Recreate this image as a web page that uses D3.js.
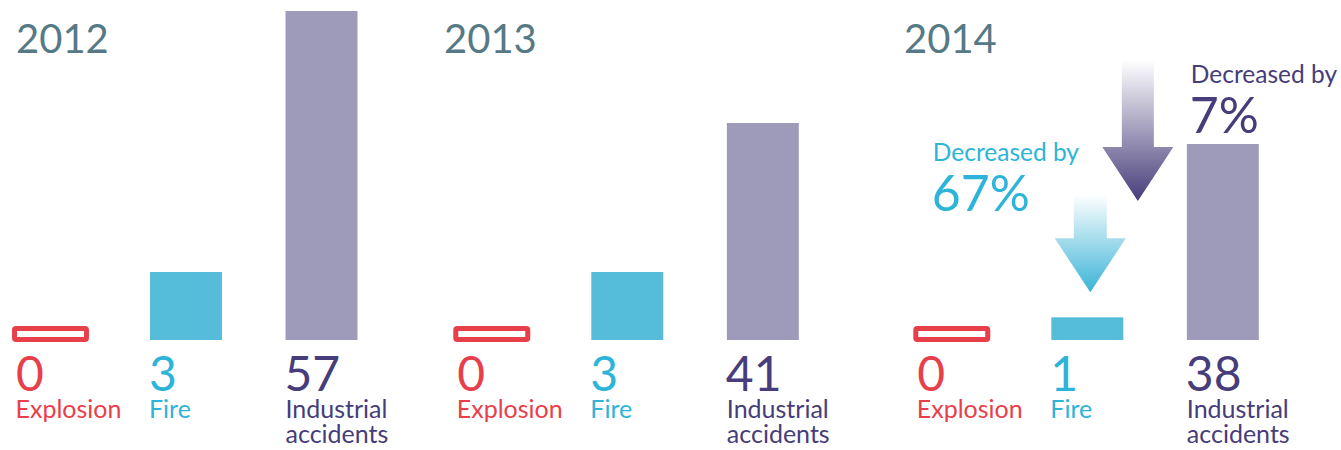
<!DOCTYPE html>
<html>
<head>
<meta charset="utf-8">
<script src="https://cdn.jsdelivr.net/npm/d3@7"></script>
<style>
  body { margin: 0; background: #fff; }
  svg text { font-family: Lato, "Open Sans", sans-serif; }
</style>
</head>
<body>
<div class="chart"></div>
<script>
"use strict";

var years = ["2012", "2013", "2014"],
    categories = ["Explosion", "Fire", "Industrial accidents"],
    explosion = [0, 0, 0],
    fire = [3, 3, 1],
    industrial = [57, 41, 38];

// change vs previous year, shown on 2014 only
var changeYear = "2014",
    fireChange = "67%",
    industrialChange = "7%";

var width = 1341,
    height = 450,
    base = 340;

var colors = {
  year: "#567986",
  explosion: "#e8404a",
  fireBar: "#55bcda",
  fireText: "#2db4d8",
  indBar: "#9e9aba",
  indText: "#463d7a"
};

var svg = d3.select(".chart")
    .append("svg")
    .attr("width", width)
    .attr("height", height);

var defs = svg.append("defs");

function grad(id, c2) {
  var g = defs.append("linearGradient")
      .attr("id", id)
      .attr("x1", 0).attr("y1", 0)
      .attr("x2", 0).attr("y2", 1);
  g.append("stop").attr("offset", "0%").attr("stop-color", "#ffffff");
  g.append("stop").attr("offset", "100%").attr("stop-color", c2);
}
grad("gradInd", "#463d7a");
grad("gradFire", "#3bb3d6");

// group positions
var xYear = d3.scaleOrdinal()
    .domain(years)
    .range([14.5, 455.8, 915.8]);

// year titles don't sit on the same offset in every group
var xYearLabel = d3.scaleOrdinal()
    .domain(years)
    .range([16, 444, 904]);

var xCat = d3.scaleBand()
    .domain(categories)
    .range([0, 343])
    .paddingInner(0.469)
    .paddingOuter(0);

var yFire = d3.scaleLinear().domain([0, 3]).range([0, 68]);
var yInd = d3.scaleLinear().domain([10, 57]).range([0, 329]);

var rows = years.map(function(y, i) {
  return { year: y, explosion: explosion[i], fire: fire[i], industrial: industrial[i] };
});

// year labels
svg.append("g")
    .selectAll("text")
    .data(rows)
    .enter().append("text")
        .attr("x", function(d) { return xYearLabel(d.year); })
        .attr("y", 53)
        .attr("fill", colors.year)
        .style("font-size", "40px")
        .text(function(d) { return d.year; });

var groups = svg.append("g")
    .selectAll("g")
    .data(rows)
    .enter().append("g")
        .attr("transform", function(d) { return "translate(" + xYear(d.year) + ",0)"; });

// explosion (zero) outline
groups.append("rect")
    .attr("x", xCat("Explosion"))
    .attr("y", base - 11.5)
    .attr("width", xCat.bandwidth())
    .attr("height", 11)
    .attr("rx", 1.5)
    .attr("fill", "#fff")
    .attr("stroke", colors.explosion)
    .attr("stroke-width", 5);

groups.append("rect")
    .attr("x", xCat("Fire"))
    .attr("y", function(d) { return base - yFire(d.fire); })
    .attr("width", xCat.bandwidth())
    .attr("height", function(d) { return yFire(d.fire); })
    .attr("fill", colors.fireBar);

groups.append("rect")
    .attr("x", xCat("Industrial accidents"))
    .attr("y", function(d) { return base - yInd(d.industrial); })
    .attr("width", xCat.bandwidth())
    .attr("height", function(d) { return yInd(d.industrial); })
    .attr("fill", colors.indBar);

// values
var numSize = "48px", labSize = "25px";

groups.append("text")
    .attr("x", xCat("Explosion") + 1.5)
    .attr("y", 391)
    .attr("fill", colors.explosion)
    .style("font-size", numSize)
    .text(function(d) { return d.explosion; });

groups.append("text")
    .attr("x", xCat("Fire") - 1)
    .attr("y", 391)
    .attr("fill", colors.fireText)
    .style("font-size", numSize)
    .text(function(d) { return d.fire; });

groups.append("text")
    .attr("x", xCat("Industrial accidents") - 1)
    .attr("y", 391)
    .attr("fill", colors.indText)
    .style("font-size", numSize)
    .text(function(d) { return d.industrial; });

// labels
groups.append("text")
    .attr("x", xCat("Explosion") + 1)
    .attr("y", 418)
    .attr("fill", colors.explosion)
    .style("font-size", labSize)
    .text("Explosion");

groups.append("text")
    .attr("x", xCat("Fire") - 1)
    .attr("y", 418)
    .attr("fill", colors.fireText)
    .style("font-size", labSize)
    .text("Fire");

var indLab = groups.append("text")
    .attr("x", xCat("Industrial accidents"))
    .attr("y", 418)
    .attr("fill", colors.indText)
    .style("font-size", labSize);
indLab.append("tspan").text("Industrial");
indLab.append("tspan")
    .attr("x", xCat("Industrial accidents"))
    .attr("dy", 25)
    .text("accidents");

// change annotations
var last = groups.filter(function(d) { return d.year === changeYear; });

function arrow(sel, cx, top, headTop, tip, shaftW, headW, fill) {
  var p = [
    [cx - shaftW / 2, top], [cx + shaftW / 2, top],
    [cx + shaftW / 2, headTop], [cx + headW / 2, headTop],
    [cx, tip],
    [cx - headW / 2, headTop], [cx - shaftW / 2, headTop]
  ];
  sel.append("path")
      .attr("d", d3.line()(p) + "Z")
      .attr("fill", fill);
}

last.each(function(d) {
  var g = d3.select(this);
  var fx = xCat("Fire") + xCat.bandwidth() / 2 + 3,
      fTop = base - yFire(d.fire);
  arrow(g, fx, fTop - 123, fTop - 79, fTop - 25, 33, 71, "url(#gradFire)");

  var ix = xCat("Industrial accidents") - 49,
      iTop = base - yInd(d.industrial);
  arrow(g, ix, 60, 147, 201, 32, 71, "url(#gradInd)");

  g.append("text")
      .attr("x", 17)
      .attr("y", 161)
      .attr("fill", colors.fireText)
      .style("font-size", "24.5px")
      .text("Decreased by");
  g.append("text")
      .attr("x", 16)
      .attr("y", 211)
      .attr("fill", colors.fireText)
      .style("font-size", "50px")
      .text(fireChange);

  g.append("text")
      .attr("x", xCat("Industrial accidents") + 4)
      .attr("y", 83)
      .attr("fill", colors.indText)
      .style("font-size", "24.5px")
      .text("Decreased by");
  g.append("text")
      .attr("x", xCat("Industrial accidents") + 3)
      .attr("y", 133)
      .attr("fill", colors.indText)
      .style("font-size", "50px")
      .text(industrialChange);
});
</script>
</body>
</html>
